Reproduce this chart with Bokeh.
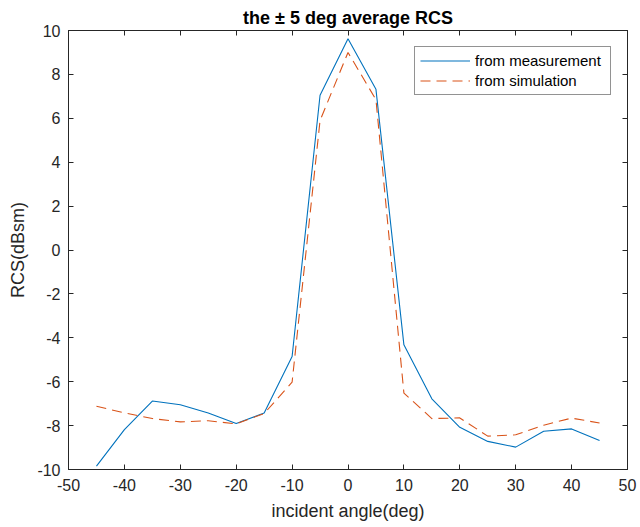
from bokeh.plotting import figure
from bokeh.models import LinearAxis, Legend, LegendItem, FixedTicker, Range1d
from bokeh.embed import file_html
from bokeh.resources import INLINE

angles = [-45, -40, -35, -30, -25, -20, -15, -10, -5, 0, 5, 10, 15, 20, 25, 30, 35, 40, 45]
measurement = [-9.85, -8.18, -6.88, -7.05, -7.43, -7.9, -7.43, -4.85, 7.05, 9.62, 7.32,
               -4.32, -6.78, -8.08, -8.72, -8.98, -8.26, -8.15, -8.68]
simulation = [-7.12, -7.42, -7.68, -7.83, -7.78, -7.92, -7.45, -6.02, 5.9, 9.0, 6.85,
              -6.52, -7.68, -7.65, -8.48, -8.42, -7.98, -7.66, -7.88]
x_ticks = [-50, -40, -30, -20, -10, 0, 10, 20, 30, 40, 50]
x_tick_labels = ["-50", "-40", "-30", "-20", "-10", "0", "10", "20", "30", "40", "50"]
y_ticks = [-10, -8, -6, -4, -2, 0, 2, 4, 6, 8, 10]
y_tick_labels = ["-10", "-8", "-6", "-4", "-2", "0", "2", "4", "6", "8", "10"]

AX = "#262626"
FONT = "Liberation Sans"

p = figure(width=640, height=527, x_range=Range1d(-50, 50), y_range=Range1d(-10, 10),
           output_backend="svg", toolbar_location=None,
           min_border_left=68, min_border_right=13, min_border_top=30, min_border_bottom=58,
           x_axis_label="incident angle(deg)", y_axis_label="RCS(dBsm)")

p.title.text = "the \u00b1 5 deg average RCS"
p.title.align = "center"
p.title.text_font = FONT
p.title.text_font_size = "18px"
p.title.text_font_style = "bold"
p.title.text_color = "black"
p.title.standoff = 5

p.xgrid.visible = False
p.ygrid.visible = False
p.outline_line_color = AX

def style_axis(ax, labels=True):
    ax.major_tick_in = 5
    ax.major_tick_out = 0
    ax.minor_tick_line_color = None
    ax.axis_line_color = AX
    ax.major_tick_line_color = AX
    ax.major_label_text_color = AX
    ax.major_label_text_font = FONT
    ax.axis_label_text_font = FONT
    ax.axis_label_text_font_style = "normal"
    ax.axis_label_text_color = AX
    ax.axis_label_text_font_size = "18px"
    if labels:
        ax.major_label_text_font_size = "16px"
    else:
        ax.major_label_text_font_size = "0px"
        ax.major_label_standoff = 0
        ax.axis_label_standoff = 0

p.xaxis.ticker = FixedTicker(ticks=x_ticks)
p.yaxis.ticker = FixedTicker(ticks=y_ticks)
style_axis(p.xaxis[0])
style_axis(p.yaxis[0])
p.xaxis.major_label_overrides = dict(zip(x_ticks, x_tick_labels))
p.yaxis.major_label_overrides = dict(zip(y_ticks, y_tick_labels))
p.xaxis.major_label_standoff = 9
p.yaxis.major_label_standoff = 8
p.xaxis.axis_label_standoff = 7
p.yaxis.axis_label_standoff = 6

top_ax = LinearAxis(ticker=FixedTicker(ticks=x_ticks))
right_ax = LinearAxis(ticker=FixedTicker(ticks=y_ticks))
style_axis(top_ax, labels=False)
style_axis(right_ax, labels=False)
p.add_layout(top_ax, "above")
p.add_layout(right_ax, "right")

r1 = p.line(angles, measurement, line_color="#0072BD", line_width=1.1)
r2 = p.line(angles, simulation, line_color="#D95319", line_width=1.1, line_dash="10 6")

legend = Legend(items=[LegendItem(label="from measurement", renderers=[r1]),
                       LegendItem(label="from simulation", renderers=[r2])],
                location="top_right", margin=16, padding=5, spacing=3,
                glyph_width=50, glyph_height=17, label_height=17, label_width=130,
                label_standoff=5, label_text_font=FONT, label_text_font_size="15px",
                label_text_color="black", border_line_color=AX, border_line_width=1,
                background_fill_color="white", background_fill_alpha=1)
p.add_layout(legend)

open("out.html", "w").write(file_html(p, INLINE))
